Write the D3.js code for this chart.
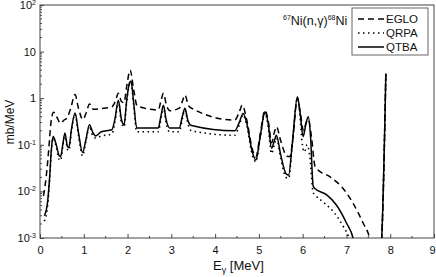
<!DOCTYPE html>
<html>
<head>
<meta charset="utf-8">
<script src="https://cdn.jsdelivr.net/npm/d3@7"></script>
<style>
  body { margin: 0; background: #fff; }
  svg { font-family: "Liberation Sans", Arial, sans-serif; }
</style>
</head>
<body>
<div class="chart"></div>
<script>
// spectra: [E (MeV), mb/MeV]
var eglo = [
  [0.08, 0.008], [0.14, 0.02], [0.20, 0.08], [0.25, 0.3], [0.31, 0.5], [0.38, 0.4],
  [0.47, 0.29], [0.55, 0.34], [0.62, 0.38], [0.70, 0.6], [0.80, 1.2], [0.88, 0.6],
  [0.98, 0.35], [1.06, 0.5], [1.13, 0.75], [1.22, 0.58], [1.40, 0.6], [1.64, 0.65],
  [1.72, 0.85], [1.79, 1.27], [1.86, 0.85], [1.92, 0.8], [1.98, 1.8], [2.06, 4.0],
  [2.14, 1.5], [2.22, 0.68], [2.70, 0.56], [2.76, 0.85], [2.82, 1.27], [2.89, 0.7],
  [2.97, 0.54], [3.18, 0.61], [3.25, 0.85], [3.31, 1.17], [3.39, 0.7], [3.46, 0.61],
  [4.45, 0.34], [4.55, 0.5], [4.62, 0.71], [4.72, 0.35], [4.85, 0.08], [4.93, 0.055],
  [5.03, 0.17], [5.14, 0.55], [5.22, 0.3], [5.29, 0.11], [5.35, 0.18], [5.40, 0.245],
  [5.50, 0.12], [5.64, 0.057], [5.71, 0.056], [5.78, 0.15], [5.88, 1.0], [5.95, 0.45],
  [6.02, 0.2], [6.08, 0.3], [6.13, 0.35], [6.20, 0.15], [6.28, 0.035], [6.32, 0.031],
  [6.62, 0.0207], [6.89, 0.0126], [7.15, 0.0056], [7.38, 0.0021], [7.52, 0.00107],
  [7.58, 0.0006], [7.78, 0.0005], [7.80, 0.0008], [7.90, 3.4]
];

var qrpa = [
  [0.10, 0.0023], [0.17, 0.0045], [0.22, 0.018], [0.26, 0.075], [0.30, 0.14], [0.36, 0.10],
  [0.44, 0.048], [0.47, 0.046], [0.52, 0.09], [0.57, 0.17], [0.63, 0.078], [0.66, 0.075],
  [0.72, 0.2], [0.80, 0.45], [0.88, 0.16], [0.97, 0.058], [1.05, 0.12], [1.13, 0.25],
  [1.20, 0.16], [1.27, 0.14], [1.40, 0.155], [1.64, 0.17], [1.71, 0.3], [1.79, 0.85],
  [1.86, 0.3], [1.92, 0.24], [1.98, 0.85], [2.05, 2.1], [2.08, 2.2], [2.14, 0.7],
  [2.21, 0.19], [2.70, 0.19], [2.76, 0.35], [2.82, 0.65], [2.88, 0.3], [2.96, 0.19],
  [3.18, 0.19], [3.25, 0.35], [3.31, 0.56], [3.38, 0.28], [3.46, 0.2], [4.45, 0.16],
  [4.55, 0.26], [4.64, 0.44], [4.72, 0.27], [4.85, 0.06], [4.93, 0.043], [5.03, 0.14],
  [5.14, 0.48], [5.21, 0.25], [5.29, 0.065], [5.35, 0.1], [5.40, 0.14], [5.50, 0.05],
  [5.62, 0.02], [5.68, 0.019], [5.76, 0.09], [5.88, 1.0], [5.94, 0.4], [5.98, 0.13],
  [6.04, 0.07], [6.10, 0.1], [6.16, 0.06], [6.24, 0.0095], [6.28, 0.0085], [6.50, 0.0056],
  [6.73, 0.0034], [6.93, 0.00175], [7.06, 0.001], [7.12, 0.0006], [7.78, 0.0005],
  [7.80, 0.0008], [7.90, 3.4]
];

var qtba = [
  [0.10, 0.0030], [0.17, 0.0056], [0.22, 0.02], [0.26, 0.08], [0.30, 0.15], [0.36, 0.11],
  [0.44, 0.058], [0.47, 0.056], [0.52, 0.10], [0.57, 0.18], [0.63, 0.09], [0.66, 0.088],
  [0.72, 0.22], [0.80, 0.48], [0.88, 0.18], [0.97, 0.068], [1.05, 0.13], [1.13, 0.27],
  [1.20, 0.19], [1.27, 0.155], [1.40, 0.19], [1.64, 0.21], [1.71, 0.35], [1.79, 0.90],
  [1.86, 0.35], [1.92, 0.27], [1.98, 0.9], [2.05, 2.2], [2.08, 2.3], [2.14, 0.8],
  [2.21, 0.23], [2.70, 0.23], [2.76, 0.4], [2.82, 0.71], [2.88, 0.35], [2.96, 0.23],
  [3.18, 0.23], [3.25, 0.4], [3.31, 0.61], [3.38, 0.33], [3.46, 0.26], [4.45, 0.20],
  [4.55, 0.3], [4.64, 0.47], [4.72, 0.3], [4.85, 0.07], [4.93, 0.047], [5.03, 0.15],
  [5.14, 0.51], [5.21, 0.3], [5.29, 0.084], [5.35, 0.12], [5.40, 0.16], [5.50, 0.06],
  [5.62, 0.024], [5.68, 0.0225], [5.76, 0.1], [5.88, 1.08], [5.94, 0.5], [6.01, 0.15],
  [6.08, 0.3], [6.13, 0.40], [6.18, 0.15], [6.24, 0.013], [6.28, 0.0115], [6.55, 0.0084],
  [6.77, 0.0051], [7.00, 0.0021], [7.15, 0.001], [7.20, 0.0006], [7.78, 0.0005],
  [7.80, 0.0008], [7.90, 3.4]
];

var xTicks = [0, 1, 2, 3, 4, 5, 6, 7, 8, 9];
var yTicks = [1e-3, 1e-2, 1e-1, 1, 10, 100];
var yTickLabels = [["10", "-3"], ["10", "-2"], ["10", "-1"], ["1", ""], ["10", ""], ["10", "2"]];
var legendNames = ["EGLO", "QRPA", "QTBA"];

var svgWidth = 436;
var svgHeight = 277;
var margin = { top: 5, right: 2, bottom: 39, left: 40 };
var width = svgWidth - margin.left - margin.right;
var height = svgHeight - margin.top - margin.bottom;

var svg = d3.select(".chart").append("svg")
  .attr("width", svgWidth)
  .attr("height", svgHeight);

var chartGroup = svg.append("g")
  .attr("transform", `translate(${margin.left}, ${margin.top})`);

var xScale = d3.scaleLinear().domain([0, 9]).range([0, width]);
var yScale = d3.scaleLog().domain([1e-3, 100]).range([height, 0]);

chartGroup.append("clipPath").attr("id", "plotclip")
  .append("rect").attr("width", width).attr("height", height);

// minor ticks
var xMinor = d3.range(0.5, 9, 1);
var yMinor = [];
[1e-3, 1e-2, 1e-1, 1, 10].forEach(function (d) {
  for (var k = 2; k <= 9; k++) yMinor.push(d * k);
});

var axisColor = "#444";

var bottomAxis = d3.axisBottom(xScale).tickValues(xTicks).tickSize(-4).tickPadding(8).tickFormat(d3.format("d"));
var xAxis = chartGroup.append("g")
  .attr("transform", `translate(0, ${height})`)
  .call(bottomAxis);
xAxis.select(".domain").remove();
xAxis.selectAll("line").attr("stroke", axisColor);
xAxis.selectAll("text").attr("font-size", "11px").attr("fill", "#111")
  .attr("font-family", "Liberation Sans, Arial, sans-serif")
  .attr("dx", d => d == 9 ? -2 : 0);

chartGroup.append("g").selectAll("line")
  .data(xMinor).enter().append("line")
  .attr("x1", d => xScale(d)).attr("x2", d => xScale(d))
  .attr("y1", height).attr("y2", height - 2)
  .attr("stroke", axisColor);

var leftAxis = d3.axisLeft(yScale).tickValues(yTicks).tickSize(-4).tickFormat("");
var yAxis = chartGroup.append("g").call(leftAxis);
yAxis.select(".domain").remove();
yAxis.selectAll("line").attr("stroke", axisColor);

chartGroup.append("g").selectAll("line")
  .data(yMinor).enter().append("line")
  .attr("x1", 0).attr("x2", 2)
  .attr("y1", d => yScale(d)).attr("y2", d => yScale(d))
  .attr("stroke", axisColor);

// y tick labels with superscripts
var yLab = chartGroup.append("g").selectAll("text")
  .data(yTicks).enter().append("text")
  .attr("x", -4)
  .attr("y", d => yScale(d) + 4)
  .attr("text-anchor", "end")
  .attr("font-size", "11px")
  .attr("fill", "#111");
yLab.each(function (d, i) {
  var t = d3.select(this);
  t.append("tspan").text(yTickLabels[i][0]);
  if (yTickLabels[i][1]) {
    t.append("tspan").attr("dy", -4).attr("font-size", "7px").text(yTickLabels[i][1]);
  }
});

// frame
chartGroup.append("rect")
  .attr("width", width).attr("height", height)
  .attr("fill", "none").attr("stroke", axisColor).attr("stroke-width", 1);

// curves
var line = d3.line()
  .x(d => xScale(d[0]))
  .y(d => yScale(d[1]))
  .curve(d3.curveMonotoneX);

var series = [
  { data: eglo, dash: "6,4", w: 1.5 },
  { data: qrpa, dash: "1.5,3.5", w: 1.6 },
  { data: qtba, dash: null, w: 1.5 }
];

var curves = chartGroup.append("g").attr("clip-path", "url(#plotclip)");
series.forEach(function (s) {
  curves.append("path")
    .datum(s.data)
    .attr("d", line)
    .attr("fill", "none")
    .attr("stroke", "#000")
    .attr("stroke-width", s.w)
    .attr("stroke-dasharray", s.dash);
});

// title
var title = svg.append("text")
  .attr("x", 283).attr("y", 25)
  .attr("font-size", "12.5px").attr("fill", "#111");
title.append("tspan").attr("font-size", "7px").attr("dy", -5).text("67");
title.append("tspan").attr("dy", 5).text("Ni(n,");
title.append("tspan").text("γ");
title.append("tspan").text(")");
title.append("tspan").attr("font-size", "7px").attr("dy", -5).text("68");
title.append("tspan").attr("dy", 5).text("Ni");

// legend
var legend = svg.append("g");
legend.append("rect")
  .attr("x", 352).attr("y", 8).attr("width", 76).attr("height", 47)
  .attr("fill", "#fff").attr("stroke", "#666").attr("stroke-width", 1);
legendNames.forEach(function (name, i) {
  var yy = 19 + i * 14;
  legend.append("line")
    .attr("x1", 358).attr("x2", 384)
    .attr("y1", yy).attr("y2", yy)
    .attr("stroke", "#000").attr("stroke-width", 1.5)
    .attr("stroke-dasharray", series[i].dash);
  legend.append("text")
    .attr("x", 386).attr("y", yy + 4)
    .attr("font-size", "11.5px").attr("fill", "#111")
    .text(name);
});

// axis labels
svg.append("text")
  .attr("transform", "translate(14, 122) rotate(-90)")
  .attr("text-anchor", "middle")
  .attr("font-size", "12px").attr("fill", "#111")
  .text("mb/MeV");

var xl = svg.append("text")
  .attr("x", 213).attr("y", 270)
  .attr("font-size", "13px").attr("fill", "#111");
xl.append("tspan").text("E");
xl.append("tspan").attr("dy", 3).attr("font-size", "9px").text("γ");
xl.append("tspan").attr("dy", -3).text(" [MeV]");
</script>
</body>
</html>
